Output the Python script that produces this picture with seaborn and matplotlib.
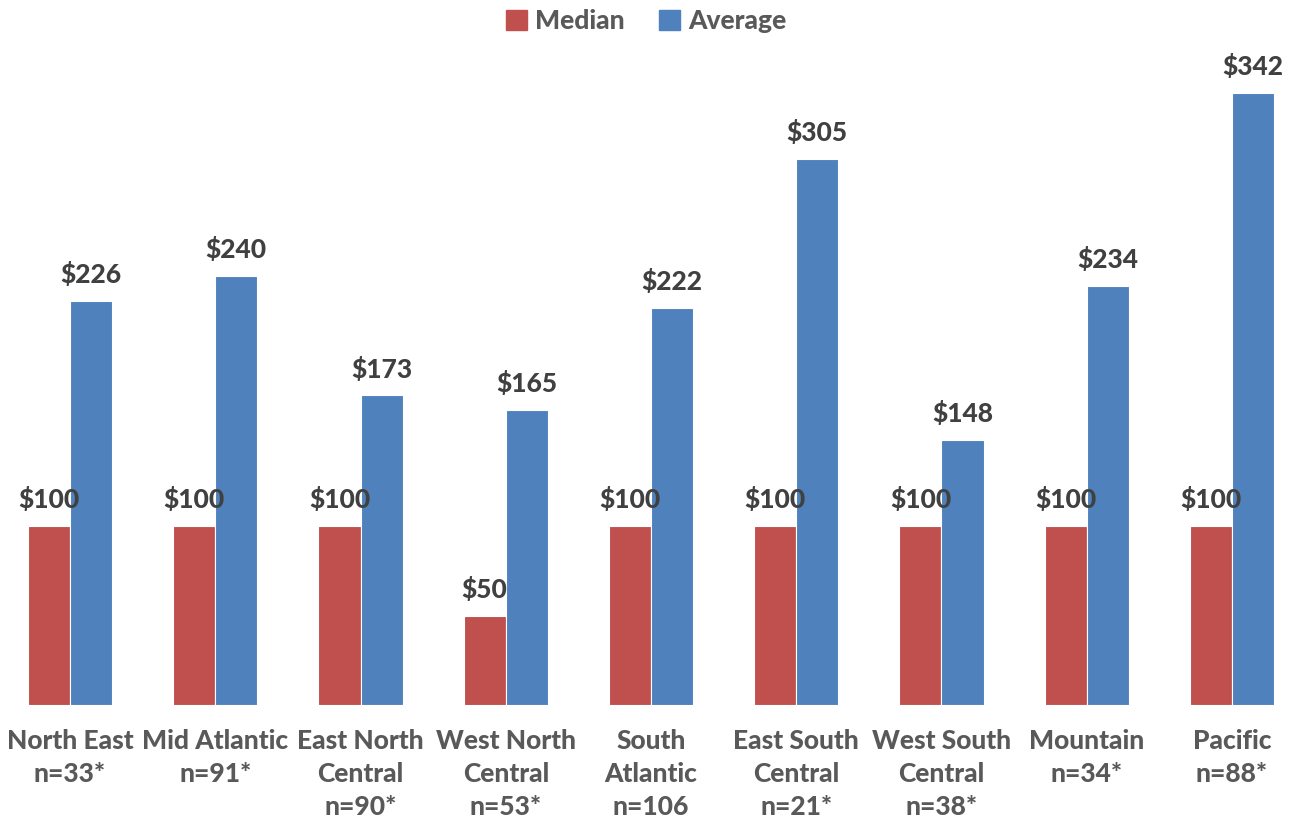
import pandas as pd
import matplotlib.pyplot as plt
import seaborn as sns

regions = ["North East\nn=33*", "Mid Atlantic\nn=91*", "East North\nCentral\nn=90*",
           "West North\nCentral\nn=53*", "South\nAtlantic\nn=106", "East South\nCentral\nn=21*",
           "West South\nCentral\nn=38*", "Mountain\nn=34*", "Pacific\nn=88*"]
median = [100, 100, 100, 50, 100, 100, 100, 100, 100]
average = [226, 240, 173, 165, 222, 305, 148, 234, 342]

df = pd.DataFrame({
    "region": regions * 2,
    "value": median + average,
    "stat": ["Median"] * len(regions) + ["Average"] * len(regions),
})

sns.set_theme(style="white")
plt.rcParams["font.family"] = ["Lato", "DejaVu Sans"]
plt.rcParams["font.weight"] = "bold"

fig = plt.figure(figsize=(12.93, 8.22), dpi=100)
ax = fig.add_axes([-2.6 / 1293, 117 / 822, 1307.2 / 1293, 680 / 822])

sns.barplot(data=df, x="region", y="value", hue="stat", ax=ax,
            palette={"Median": "#C0504D", "Average": "#4F81BD"}, saturation=1,
            width=0.58, edgecolor="white", linewidth=0.8, legend=False)

for cont in ax.containers:
    ax.bar_label(cont, fmt="${:.0f}", padding=10, fontsize=19, fontweight="black", color="#404040")

ax.set_xlim(-0.5, 8.5)
ax.set_ylim(0, 380)
ax.set_xlabel("")
ax.set_ylabel("")
ax.set_yticks([])
for s in ax.spines.values():
    s.set_visible(False)
ax.tick_params(axis="x", length=0, pad=17, labelsize=19, labelcolor="#595959")
for t in ax.get_xticklabels():
    t.set_fontweight("black")
    t.set_verticalalignment("top")
    t.set_linespacing(1.45)

handles = [plt.Rectangle((0, 0), 1, 1, color="#C0504D"), plt.Rectangle((0, 0), 1, 1, color="#4F81BD")]
leg = fig.legend(handles, ["Median", "Average"], loc="upper center", bbox_to_anchor=(0.5, 1.018),
                 ncol=2, frameon=False, fontsize=19, handlelength=0.8, handleheight=0.8,
                 handletextpad=0.3, columnspacing=1.3)
for t in leg.get_texts():
    t.set_color("#595959")
    t.set_fontweight("black")

fig.savefig("out.png", dpi=100)
plt.close(fig)
